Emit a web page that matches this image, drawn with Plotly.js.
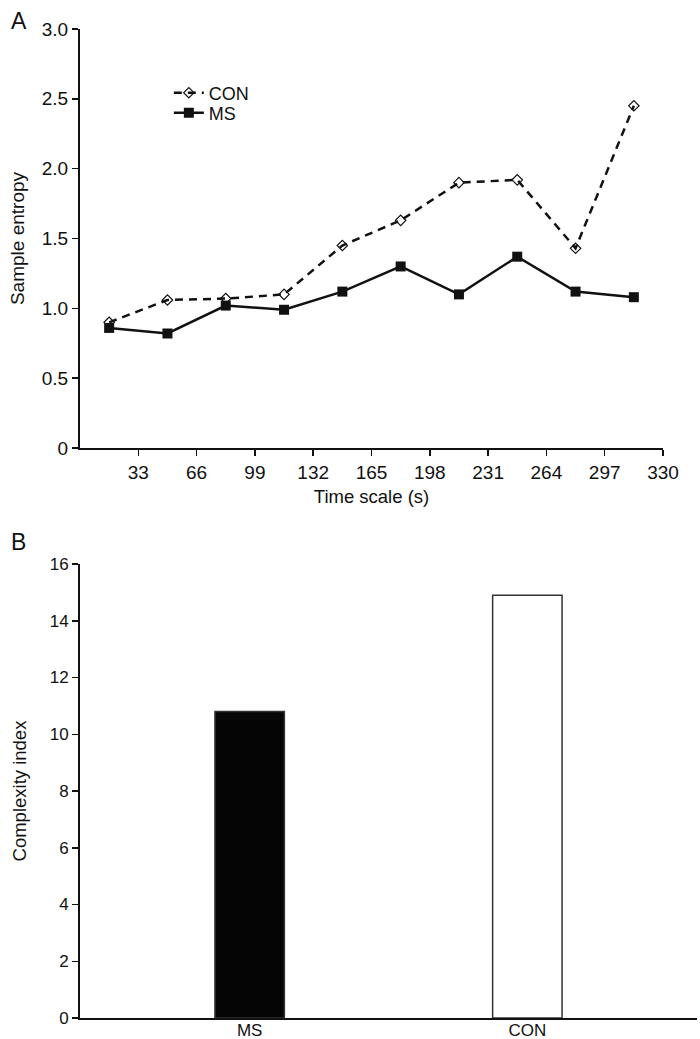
<!DOCTYPE html>
<html>
<head>
<meta charset="utf-8">
<script src="https://cdn.plot.ly/plotly-3.0.1.min.js"></script>
<style>
  html, body { margin: 0; padding: 0; background: #fff; }
  #chart { width: 700px; height: 1039px; }
</style>
</head>
<body>
<div id="chart"></div>
<script>
// panel A: sample entropy per time scale
const timeScale = [16.5, 49.5, 82.5, 115.5, 148.5, 181.5, 214.5, 247.5, 280.5, 313.5];
const conEntropy = [0.90, 1.06, 1.07, 1.10, 1.45, 1.63, 1.90, 1.92, 1.43, 2.45];
const msEntropy = [0.86, 0.82, 1.02, 0.99, 1.12, 1.30, 1.10, 1.37, 1.12, 1.08];
const timeTicks = [33, 66, 99, 132, 165, 198, 231, 264, 297, 330];
const entropyTicks = [0, 0.5, 1.0, 1.5, 2.0, 2.5, 3.0];
const entropyTickText = ['0', '0.5', '1.0', '1.5', '2.0', '2.5', '3.0'];

// panel B: complexity index
const groups = ['MS', 'CON'];
const complexity = [10.8, 14.9];
const complexityTicks = [0, 2, 4, 6, 8, 10, 12, 14, 16];

const FONT = 'Liberation Sans, Arial, sans-serif';
const INK = '#111';

const traces = [
    {
        x: timeScale, y: conEntropy, name: 'CON',
        type: 'scatter', mode: 'lines+markers',
        line: { color: INK, width: 2.5, dash: '8px,6px' },
        marker: { symbol: 'diamond-open', size: 8, color: INK, line: { width: 1.2, color: INK } },
        xaxis: 'x', yaxis: 'y', legend: 'legend'
    },
    {
        x: timeScale, y: msEntropy, name: 'MS',
        type: 'scatter', mode: 'lines+markers',
        line: { color: INK, width: 2.5 },
        marker: { symbol: 'square', size: 10, color: INK },
        xaxis: 'x', yaxis: 'y', legend: 'legend2'
    },
    {
        x: groups, y: complexity, type: 'bar', width: 0.25,
        marker: { color: ['#050505', '#ffffff'], line: { color: '#333', width: 1.5 } },
        showlegend: false,
        xaxis: 'x2', yaxis: 'y2'
    }
];

const axisCommon = {
    showline: true, linecolor: INK, linewidth: 2,
    showgrid: false, zeroline: false,
    ticks: 'outside', ticklen: 6, tickwidth: 1.5, tickcolor: INK,
    tickfont: { family: FONT, size: 19, color: INK }
};

// one legend per row so the two rows sit close together like the original
const legendCommon = {
    xanchor: 'left', yanchor: 'middle',
    bgcolor: 'rgba(0,0,0,0)', itemwidth: 30,
    font: { family: FONT, size: 18, color: INK }
};

const layout = {
    width: 700, height: 1039,
    paper_bgcolor: '#fff', plot_bgcolor: '#fff',
    margin: { t: 29, l: 80, r: 3, b: 21 },
    font: { family: FONT, color: INK },
    showlegend: true,
    legend: Object.assign({}, legendCommon, { x: 0.144, y: 0.9353 }),
    legend2: Object.assign({}, legendCommon, { x: 0.144, y: 0.9150 }),
    xaxis: Object.assign({}, axisCommon, {
        domain: [0, 0.9449], range: [0, 330],
        tickvals: timeTicks, anchor: 'y',
        title: { text: 'Time scale (s)', font: { family: FONT, size: 18.5, color: INK }, standoff: 8 }
    }),
    yaxis: Object.assign({}, axisCommon, {
        domain: [0.5763, 1], range: [0, 3.0],
        tickvals: entropyTicks, ticktext: entropyTickText, anchor: 'x',
        title: { text: 'Sample entropy', font: { family: FONT, size: 19, color: INK }, standoff: 12 }
    }),
    xaxis2: Object.assign({}, axisCommon, {
        domain: [0, 1], range: [-0.611, 1.611], anchor: 'y2',
        ticks: '', ticklabelstandoff: -4,
        tickfont: { family: FONT, size: 17, color: INK }
    }),
    yaxis2: Object.assign({}, axisCommon, {
        domain: [0, 0.459], range: [0, 16],
        tickvals: complexityTicks, anchor: 'x2',
        tickfont: { family: FONT, size: 17, color: INK },
        title: { text: 'Complexity index', font: { family: FONT, size: 18.5, color: INK }, standoff: 18 }
    }),
    annotations: [
        { text: 'A', xref: 'paper', yref: 'paper', x: -0.115, y: 1.0233, xanchor: 'left', yanchor: 'top',
          showarrow: false, font: { family: FONT, size: 23, color: INK } },
        { text: 'B', xref: 'paper', yref: 'paper', x: -0.115, y: 0.4965, xanchor: 'left', yanchor: 'top',
          showarrow: false, font: { family: FONT, size: 23, color: INK } }
    ]
};

Plotly.newPlot('chart', traces, layout, { displayModeBar: false, staticPlot: true });
</script>
</body>
</html>
